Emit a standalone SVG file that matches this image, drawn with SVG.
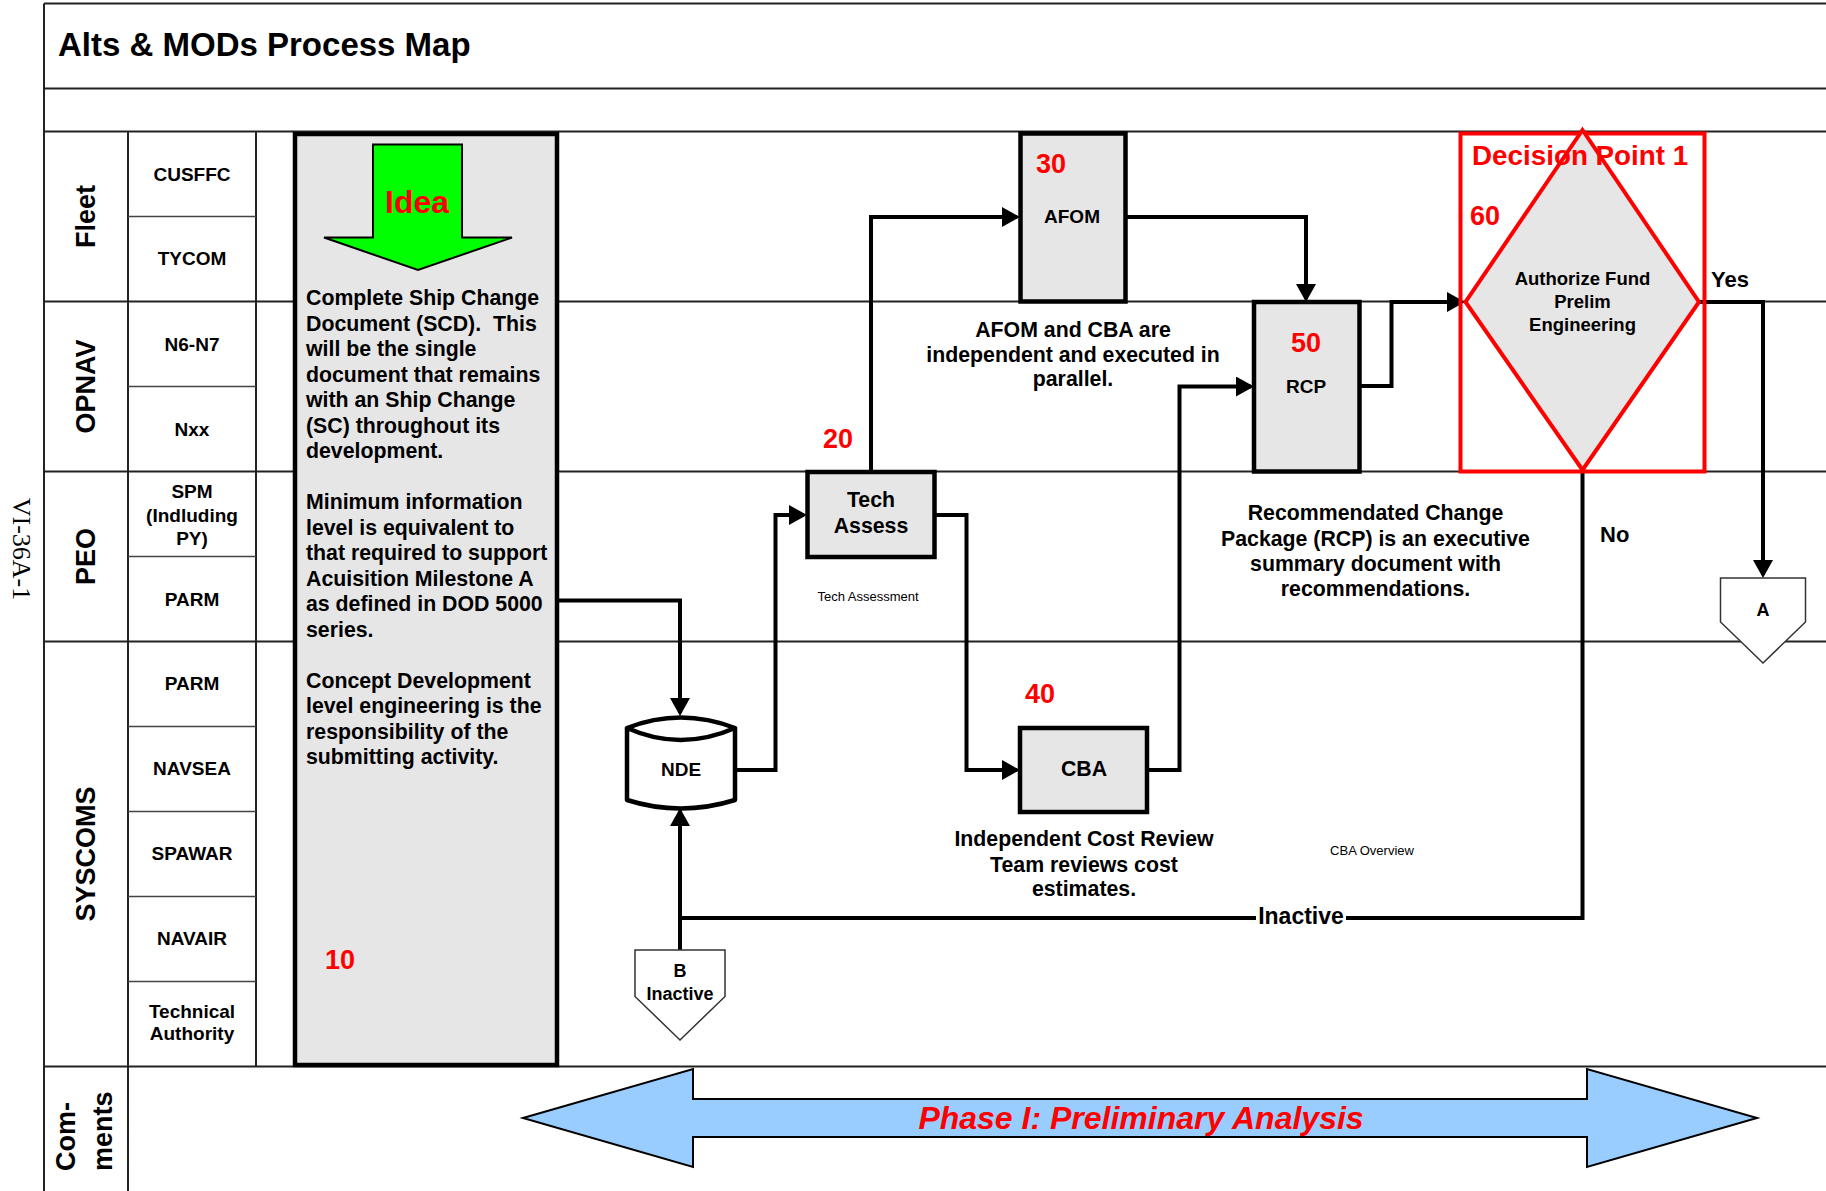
<svg xmlns="http://www.w3.org/2000/svg" width="1826" height="1191" viewBox="0 0 1826 1191">
<style>
.ln{fill:none;stroke:#222;stroke-width:2}
.sub{fill:none;stroke:#444;stroke-width:1.5}
.box{fill:#e6e6e6;stroke:#000;stroke-width:4.5}
.conn{fill:none;stroke:#000;stroke-width:4;marker-end:url(#ah)}
.connp{fill:none;stroke:#000;stroke-width:4}
.t{font-family:"Liberation Sans",Arial,Helvetica,sans-serif;font-weight:bold;fill:#000}
.c{text-anchor:middle}
.red{fill:#ff0000}
.lane{font-size:27px}
.sl{font-size:19px}
.body{font-size:21.3px}
.num{font-size:27px}
.small{font-family:"Liberation Sans",Arial,Helvetica,sans-serif;font-weight:normal;font-size:13px;fill:#000;text-anchor:middle}
.pent{fill:#fff;stroke:#333;stroke-width:1.5}
</style>
<defs>
<marker id="ah" markerUnits="userSpaceOnUse" markerWidth="18" markerHeight="20" refX="15" refY="10" orient="auto">
<path d="M0,0 L18,10 L0,20 z" fill="#000"/>
</marker>
</defs>

<g id="frame">
<rect x="0" y="0" width="1826" height="1191" fill="#fff"/>
<path class="ln" d="M44 3.5 H1826 M44 88.5 H1826 M44 131.5 H1826 M44 301.5 H1826 M44 471.5 H1826 M44 641.5 H1826 M44 1066.5 H1826 M44 3.5 V1191 M128 131.5 V1191 M256 131.5 V1066.5"/>
<path class="sub" d="M128 216.5 H256 M128 386.5 H256 M128 556.5 H256 M128 726.5 H256 M128 811.5 H256 M128 896.5 H256 M128 981.5 H256"/>
<text class="t" x="58" y="56" font-size="33">Alts &amp; MODs Process Map</text>
<text transform="translate(13,549) rotate(90)" font-family="'Liberation Serif','Times New Roman',serif" font-size="26" text-anchor="middle">VI-36A-1</text>
</g>

<g id="lanes">
<text class="t lane c" transform="translate(95,216.5) rotate(-90)">Fleet</text>
<text class="t lane c" transform="translate(95,386.5) rotate(-90)">OPNAV</text>
<text class="t lane c" transform="translate(95,556.5) rotate(-90)">PEO</text>
<text class="t lane c" transform="translate(95,854) rotate(-90)">SYSCOMS</text>
<text class="t lane" transform="translate(75,1171) rotate(-90)">Com-</text>
<text class="t lane" transform="translate(112,1171) rotate(-90)">ments</text>
<text class="t sl c" x="192" y="180.5">CUSFFC</text>
<text class="t sl c" x="192" y="265">TYCOM</text>
<text class="t sl c" x="192" y="351">N6-N7</text>
<text class="t sl c" x="192" y="436">Nxx</text>
<text class="t sl c" x="192" y="498">SPM</text>
<text class="t sl c" x="192" y="521.5">(Indluding</text>
<text class="t sl c" x="192" y="545">PY)</text>
<text class="t sl c" x="192" y="605.5">PARM</text>
<text class="t sl c" x="192" y="690">PARM</text>
<text class="t sl c" x="192" y="775">NAVSEA</text>
<text class="t sl c" x="192" y="860">SPAWAR</text>
<text class="t sl c" x="192" y="945">NAVAIR</text>
<text class="t sl c" x="192" y="1018">Technical</text>
<text class="t sl c" x="192" y="1040">Authority</text>
</g>

<g id="connectors">
<path class="conn" d="M558 600.5 H680 V713"/>
<path class="conn" d="M735 770 H775.5 V515 H804"/>
<path class="conn" d="M935 515 H966.5 V770 H1017"/>
<path class="conn" d="M871 472 V217 H1017"/>
<path class="conn" d="M1126 217 H1306 V299"/>
<path class="conn" d="M1147 770 H1179.5 V386.5 H1251"/>
<path class="conn" d="M1359 386 H1391.5 V302 H1462"/>
<path class="conn" d="M1699 302 H1763 V575"/>
<path class="connp" d="M1582.5 471 V918 H680"/>
<path class="conn" d="M680 950 V811"/>
<rect x="1256" y="902" width="90" height="30" fill="#fff"/>
<text class="t c" x="1301" y="924" font-size="23">Inactive</text>
<text class="t" x="1711" y="287" font-size="22">Yes</text>
<text class="t" x="1600" y="542" font-size="22">No</text>
</g>

<g id="n10">
<rect class="box" x="295" y="134" width="262" height="931" stroke-width="5"/>
<polygon points="373,144.5 462,144.5 462,237.5 512,237.5 418,270 324,237.5 373,237.5" fill="#00ff00" stroke="#000" stroke-width="2"/>
<text class="t c red" x="417" y="213" font-size="32">Idea</text>
<text class="t body" x="306">
<tspan x="306" y="305">Complete Ship Change</tspan>
<tspan x="306" y="330.5">Document (SCD).&#160; This</tspan>
<tspan x="306" y="356">will be the single</tspan>
<tspan x="306" y="381.5">document that remains</tspan>
<tspan x="306" y="407">with an Ship Change</tspan>
<tspan x="306" y="432.5">(SC) throughout its</tspan>
<tspan x="306" y="458">development.</tspan>
<tspan x="306" y="509">Minimum information</tspan>
<tspan x="306" y="534.5">level is equivalent to</tspan>
<tspan x="306" y="560">that required to support</tspan>
<tspan x="306" y="585.5">Acuisition Milestone A</tspan>
<tspan x="306" y="611">as defined in DOD 5000</tspan>
<tspan x="306" y="636.5">series.</tspan>
<tspan x="306" y="687.5">Concept Development</tspan>
<tspan x="306" y="713">level engineering is the</tspan>
<tspan x="306" y="738.5">responsibility of the</tspan>
<tspan x="306" y="764">submitting activity.</tspan>
</text>
<text class="t num red" x="325" y="969">10</text>
</g>

<g id="nde">
<path d="M627 728 Q680.5 707 735 728 Q680.5 752 627 728 Z M627 728 V800 Q680.5 817 735 800 V728" fill="#fff" stroke="#000" stroke-width="4.5" stroke-linejoin="round"/>
<text class="t c" x="681" y="776" font-size="19">NDE</text>
</g>

<g id="n20">
<rect class="box" x="807.5" y="472" width="127" height="85"/>
<text class="t c body" x="871" y="507">Tech</text>
<text class="t c body" x="871" y="533">Assess</text>
<text class="t num red" x="823" y="448">20</text>
<text class="small" x="868" y="600.5">Tech Assessment</text>
</g>

<g id="n30">
<rect class="box" x="1020.5" y="133.5" width="105" height="168"/>
<text class="t num red" x="1036" y="173">30</text>
<text class="t c" x="1072" y="223" font-size="19">AFOM</text>
<text class="t c body" x="1073" y="336.5">AFOM and CBA are</text>
<text class="t c body" x="1073" y="361.5">independent and executed in</text>
<text class="t c body" x="1073" y="386">parallel.</text>
</g>

<g id="n40">
<rect class="box" x="1020" y="728" width="127" height="84"/>
<text class="t num red" x="1025" y="703">40</text>
<text class="t c body" x="1084" y="776">CBA</text>
<text class="t c body" x="1084" y="845.5">Independent Cost Review</text>
<text class="t c body" x="1084" y="871.5">Team reviews cost</text>
<text class="t c body" x="1084" y="896">estimates.</text>
<text class="small" x="1372" y="855" font-size="13.5">CBA Overview</text>
</g>

<g id="n50">
<rect class="box" x="1254" y="302" width="105.5" height="169.5"/>
<text class="t num red c" x="1306" y="352">50</text>
<text class="t c" x="1306" y="393" font-size="19">RCP</text>
<text class="t c body" x="1375.5" y="519.5">Recommendated Change</text>
<text class="t c body" x="1375.5" y="545.5">Package (RCP) is an executive</text>
<text class="t c body" x="1375.5" y="570.5">summary document with</text>
<text class="t c body" x="1375.5" y="596">recommendations.</text>
</g>

<g id="n60">
<rect x="1460.5" y="133.5" width="244" height="338" fill="none" stroke="#ff0000" stroke-width="4"/>
<polygon points="1582.5,130 1699,302 1582.5,470 1465.5,302" fill="#e6e6e6" stroke="#ff0000" stroke-width="4"/>
<text class="t red" x="1472" y="164.5" font-size="27.8">Decision Point 1</text>
<text class="t num red" x="1470" y="225">60</text>
<text class="t c" x="1582.5" y="285" font-size="18.5">Authorize Fund</text>
<text class="t c" x="1582.5" y="307.5" font-size="18.5">Prelim</text>
<text class="t c" x="1582.5" y="330.5" font-size="18.5">Engineering</text>
</g>

<g id="offA">
<polygon class="pent" points="1720.5,578 1805.5,578 1805.5,622 1763,663 1720.5,622"/>
<text class="t c" x="1763" y="616" font-size="18">A</text>
</g>

<g id="offB">
<polygon class="pent" points="635,950 725,950 725,996.5 680,1040 635,996.5"/>
<text class="t c" x="680" y="977" font-size="18">B</text>
<text class="t c" x="680" y="1000" font-size="18">Inactive</text>
</g>

<g id="phase">
<polygon points="523,1118 693,1069 693,1099 1587,1099 1587,1069 1757,1118 1587,1167 1587,1137 693,1137 693,1167" fill="#99ccff" stroke="#000" stroke-width="2"/>
<text class="t c red" x="1141" y="1129" font-size="32" font-style="italic">Phase I: Preliminary Analysis</text>
</g>
</svg>
